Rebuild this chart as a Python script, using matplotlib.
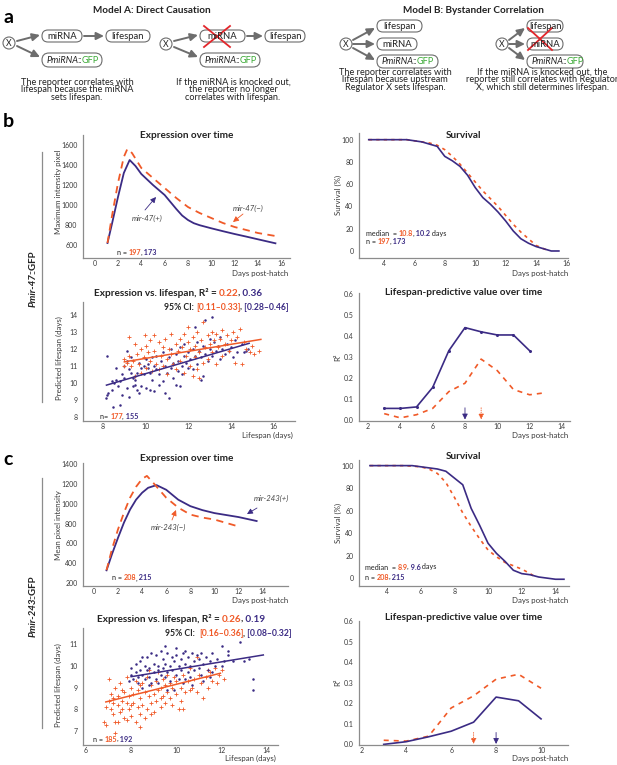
import matplotlib
matplotlib.use('Agg')
import matplotlib.pyplot as plt
import numpy as np
from matplotlib.patches import FancyBboxPatch, Circle

plt.rcParams['font.family'] = ['Lato', 'DejaVu Sans']

ORANGE = '#F05A28'
PURPLE = '#3B2B84'
DARK = '#222222'
AXGRAY = '#8c8c8c'
BOXGRAY = '#6d6d6d'
GREEN = '#3BA935'
RED = '#E3262B'

# ---------------- data ----------------
# b: Pmir-47::GFP expression over time
b_expr_x_pos = [1.1, 1.5, 2, 2.5, 3, 3.5, 4, 5, 6, 6.5, 7, 7.5, 8, 8.5, 9, 10, 11, 12, 13, 14, 15.5]
b_expr_pos = [620, 820, 1080, 1320, 1450, 1390, 1310, 1200, 1100, 1030, 960, 895, 850, 818, 798, 767, 738, 710, 684, 657, 617]
b_expr_x_neg = [1.1, 1.5, 2, 2.5, 2.8, 3.2, 4, 5, 6, 7, 8, 9, 10, 11, 12, 13, 14, 15.5]
b_expr_neg = [620, 900, 1220, 1480, 1560, 1520, 1370, 1270, 1170, 1070, 980, 920, 870, 820, 780, 750, 720, 690]

# b: survival (%)
b_surv_x_pos = [3, 4, 5, 5.5, 6, 6.5, 7, 7.5, 8, 8.5, 9, 9.5, 10, 10.5, 11, 11.5, 12, 12.5, 13, 13.5, 14, 14.5, 15, 15.5]
b_surv_pos = [100, 100, 100, 100, 99, 98, 96, 94, 85, 81, 76, 68, 57, 48, 42, 35, 27, 18, 11, 7, 4, 2, 0, 0]
b_surv_x_neg = [3, 4, 5, 5.5, 6, 6.5, 7, 7.5, 8, 8.5, 9, 9.5, 10, 10.5, 11, 11.5, 12, 12.5, 13, 13.5, 14, 14.5, 14.7]
b_surv_neg = [100, 100, 100, 100, 99, 98, 97, 95, 91, 85, 78, 70, 62, 54, 47, 40, 32, 24, 17, 11, 5, 2, 1]

# b: expression vs lifespan (purple = mir-47(+), orange = mir-47(-))
b_scat_pos = np.array([
    (8.15, 9.1), (8.2, 9.3), (8.2, 11.6), (8.25, 9.4), (8.4, 10.1), (8.4, 9.6), (8.45, 8.6), (8.5, 10.0),
    (8.6, 10.2), (8.6, 10.9), (8.7, 9.8), (8.8, 8.7), (8.8, 10.1), (8.9, 9.3), (8.9, 10.5), (9.0, 11.0),
    (9.0, 10.3), (9.1, 9.7), (9.1, 11.3), (9.13, 11.9), (9.2, 10.8), (9.2, 9.2), (9.3, 10.6), (9.3, 11.5),
    (9.4, 9.8), (9.4, 10.3), (9.5, 10.4), (9.5, 9.9), (9.5, 10.2), (9.6, 10.6), (9.6, 9.6), (9.7, 11.2),
    (9.7, 9.4), (9.8, 10.9), (9.8, 9.8), (9.9, 11.0), (9.9, 10.5), (10.0, 11.4), (10.0, 9.7), (10.1, 10.9),
    (10.1, 11.1), (10.2, 9.6), (10.2, 10.6), (10.3, 11.5), (10.3, 10.2), (10.4, 9.5), (10.4, 11.0), (10.5, 10.8),
    (10.5, 11.6), (10.6, 9.9), (10.6, 10.5), (10.7, 11.3), (10.8, 10.1), (10.8, 11.8), (10.9, 11.0), (10.9, 9.4),
    (11.0, 10.6), (11.1, 9.1), (11.1, 11.5), (11.2, 10.9), (11.2, 12.0), (11.3, 11.2), (11.3, 10.3), (11.4, 11.7),
    (11.4, 9.9), (11.5, 10.7), (11.5, 11.3), (11.6, 9.8), (11.6, 12.1), (11.7, 11.0), (11.7, 10.5), (11.8, 11.6),
    (11.8, 12.3), (11.9, 11.2), (12.0, 10.9), (12.0, 11.8), (12.1, 11.4), (12.2, 12.0), (12.2, 10.8), (12.3, 11.6),
    (12.3, 13.3), (12.4, 12.4), (12.4, 11.1), (12.5, 11.9), (12.6, 10.2), (12.6, 11.5), (12.7, 10.4), (12.7, 12.2),
    (12.8, 13.7), (12.8, 11.7), (12.9, 11.3), (13.0, 12.0), (13.0, 12.6), (13.1, 13.9), (13.1, 11.6), (13.2, 12.4),
    (13.3, 11.9), (13.4, 12.2), (13.5, 11.4), (13.5, 12.7), (13.6, 12.0), (13.7, 11.7), (13.8, 12.3), (13.9, 11.9),
    (14.0, 12.1), (14.1, 11.5), (14.2, 12.5), (14.3, 11.8), (14.5, 12.3), (14.6, 11.8), (14.7, 11.9), (14.8, 12.0),
])
b_scat_neg = np.array([
    (9.0, 11.0), (9.0, 11.4), (9.1, 11.2), (9.2, 12.7), (9.2, 11.6), (9.3, 11.0), (9.4, 11.3), (9.5, 12.3),
    (9.5, 10.4), (9.6, 11.7), (9.7, 11.1), (9.8, 12.0), (9.8, 10.6), (9.9, 11.5), (9.95, 12.8), (10.0, 12.2),
    (10.0, 10.9), (10.1, 11.8), (10.2, 12.5), (10.2, 11.3), (10.3, 10.7), (10.4, 12.8), (10.4, 11.9), (10.5, 11.1),
    (10.6, 12.4), (10.6, 10.8), (10.7, 11.6), (10.8, 12.1), (10.8, 11.0), (10.9, 12.6), (11.0, 11.4), (11.0, 10.5),
    (11.1, 12.0), (11.2, 11.7), (11.2, 12.9), (11.3, 11.1), (11.4, 12.3), (11.4, 10.8), (11.5, 11.9), (11.6, 12.6),
    (11.6, 11.3), (11.7, 12.1), (11.8, 12.9), (11.8, 10.6), (11.9, 11.6), (12.0, 13.3), (12.0, 12.4), (12.1, 11.0),
    (12.1, 12.0), (12.2, 12.7), (12.3, 11.5), (12.3, 12.2), (12.4, 13.0), (12.4, 10.8), (12.5, 11.8), (12.5, 10.3),
    (12.6, 12.5), (12.7, 11.2), (12.7, 13.6), (12.8, 12.1), (12.9, 12.8), (12.9, 11.4), (13.0, 12.3), (13.1, 13.0),
    (13.1, 11.8), (13.2, 12.5), (13.3, 11.1), (13.3, 12.9), (13.4, 12.1), (13.5, 12.6), (13.6, 11.6), (13.6, 13.1),
    (13.7, 12.3), (13.8, 12.8), (13.9, 11.9), (14.0, 12.5), (14.1, 13.0), (14.2, 11.2), (14.3, 12.7), (14.4, 13.2),
    (14.5, 11.1), (14.6, 12.4), (14.7, 12.0), (14.9, 11.8), (15.0, 12.2), (15.1, 11.7), (15.3, 11.9), (12.2, 10.4),
])
b_fit_pos_x, b_fit_pos_y = [8.16, 14.85], [9.87, 12.33]
b_fit_neg_x, b_fit_neg_y = [9.0, 15.4], [11.24, 12.56]

# b: R^2 over time
b_r2_x_pos = [3, 4, 5, 6, 7, 8, 9, 10, 11, 12]
b_r2_pos = [0.055, 0.055, 0.062, 0.155, 0.33, 0.44, 0.42, 0.405, 0.405, 0.33]
b_r2_x_neg = [3, 4, 5, 6, 7, 8, 9, 10, 11, 12, 13]
b_r2_neg = [0.03, 0.01, 0.025, 0.055, 0.135, 0.175, 0.29, 0.235, 0.145, 0.12, 0.13]
b_best_day_pos, b_best_day_neg = 8, 9

# c: Pmir-243::GFP expression over time
c_expr_x_pos = [1.05, 1.5, 2, 2.5, 3, 3.5, 4, 4.5, 5.2, 6, 7, 8, 9, 10, 11, 12, 13.5]
c_expr_pos = [328, 490, 655, 810, 940, 1040, 1110, 1160, 1187, 1140, 1040, 975, 935, 905, 885, 865, 825]
c_expr_x_neg = [1.05, 1.5, 2, 2.5, 3, 3.5, 4, 4.4, 5, 6, 7, 8, 9, 10, 11, 12]
c_expr_neg = [330, 540, 740, 910, 1060, 1170, 1250, 1280, 1200, 1060, 960, 890, 860, 840, 805, 770]

# c: survival (%)
c_surv_x_pos = [3, 4, 5, 5.5, 6.5, 7, 7.5, 8, 8.5, 9, 9.5, 10, 10.5, 11, 11.5, 12, 12.5, 13, 13.5, 14, 14.5]
c_surv_pos = [100, 100, 100, 100, 98, 97, 95, 89, 83, 62, 47, 31, 22, 15, 7, 4, 3, 1, 0, -1, -1]
c_surv_x_neg = [3, 4, 5, 6, 6.5, 7, 7.5, 8, 8.5, 9, 9.5, 10, 10.5, 11, 11.5, 12, 12.5, 12.8]
c_surv_neg = [100, 100, 100, 99, 97, 93, 85, 72, 58, 46, 35, 25, 19, 14, 11, 8, 4, 1]

# c: expression vs lifespan (purple = mir-243(+), orange = mir-243(-))
c_scat_pos = np.array([
    (7.9, 9.3), (8.0, 9.6), (8.0, 9.9), (8.1, 9.4), (8.2, 9.7), (8.2, 10.1), (8.3, 9.5), (8.3, 9.2),
    (8.4, 9.8), (8.4, 10.2), (8.5, 9.6), (8.5, 9.0), (8.5, 10.4), (8.6, 10.0), (8.6, 9.4), (8.7, 9.8),
    (8.7, 10.4), (8.8, 9.5), (8.8, 9.9), (8.8, 9.1), (8.9, 10.6), (8.9, 9.2), (9.0, 9.7), (9.0, 10.1),
    (9.1, 9.4), (9.1, 10.5), (9.2, 9.8), (9.2, 10.0), (9.2, 9.2), (9.3, 9.6), (9.3, 10.7), (9.4, 9.9),
    (9.4, 10.3), (9.5, 9.5), (9.5, 10.1), (9.5, 10.9), (9.6, 9.7), (9.6, 10.6), (9.6, 8.9), (9.7, 10.0),
    (9.7, 9.3), (9.8, 10.4), (9.8, 9.8), (9.9, 10.2), (9.9, 8.9), (10.0, 9.6), (10.0, 10.5), (10.0, 10.8),
    (10.1, 10.0), (10.1, 9.4), (10.2, 10.3), (10.2, 9.8), (10.3, 10.6), (10.3, 9.2), (10.4, 10.1), (10.4, 10.7),
    (10.4, 9.4), (10.5, 9.7), (10.5, 10.4), (10.6, 10.0), (10.6, 9.5), (10.7, 10.6), (10.7, 9.1), (10.8, 10.2),
    (10.8, 9.8), (10.9, 10.5), (11.0, 9.9), (11.0, 10.3), (11.1, 10.6), (11.1, 9.6), (11.2, 10.1), (11.2, 9.3),
    (11.3, 10.4), (11.4, 9.8), (11.5, 10.2), (11.5, 9.5), (11.6, 10.6), (11.6, 9.7), (11.7, 10.0), (11.8, 10.3),
    (12.0, 10.0), (12.0, 10.9), (12.1, 10.2), (12.3, 10.5), (12.3, 10.7), (12.5, 10.2), (12.8, 11.1), (13.0, 10.2),
    (13.2, 10.3), (13.4, 9.4), (13.4, 8.9),
])
c_scat_neg = np.array([
    (6.8, 7.4), (6.9, 7.3), (6.9, 8.1), (7.0, 8.4), (7.0, 9.4), (7.1, 8.0), (7.1, 8.7), (7.2, 7.8),
    (7.2, 8.3), (7.2, 8.5), (7.3, 7.4), (7.3, 6.9), (7.3, 9.0), (7.4, 8.2), (7.4, 8.6), (7.4, 7.4),
    (7.5, 7.9), (7.5, 9.2), (7.6, 8.4), (7.6, 8.0), (7.6, 8.9), (7.7, 8.8), (7.7, 7.6), (7.8, 8.3),
    (7.8, 9.5), (7.8, 7.5), (7.9, 8.0), (7.9, 8.6), (8.0, 7.7), (8.0, 9.0), (8.0, 8.2), (8.1, 8.3),
    (8.1, 8.7), (8.2, 7.4), (8.2, 9.3), (8.3, 8.1), (8.3, 8.9), (8.4, 7.8), (8.4, 8.5), (8.4, 9.1),
    (8.4, 7.2), (8.5, 9.2), (8.5, 8.2), (8.6, 7.6), (8.6, 8.8), (8.7, 9.5), (8.7, 8.0), (8.8, 8.6),
    (8.8, 9.8), (8.9, 8.3), (8.9, 9.1), (8.9, 7.8), (9.0, 7.9), (9.0, 8.7), (9.1, 9.3), (9.1, 8.4),
    (9.2, 8.9), (9.2, 9.7), (9.3, 8.1), (9.3, 9.0), (9.3, 8.5), (9.4, 8.6), (9.4, 9.4), (9.5, 8.3),
    (9.5, 9.1), (9.6, 8.8), (9.6, 9.6), (9.7, 8.5), (9.7, 9.2), (9.8, 9.0), (9.8, 8.2), (9.9, 9.5),
    (10.0, 8.7), (10.0, 9.3), (10.1, 8.0), (10.2, 9.0), (10.2, 8.4), (10.3, 9.6), (10.3, 8.0), (10.4, 8.8),
    (10.5, 9.3), (10.6, 9.9), (10.6, 8.9), (10.7, 9.0), (10.8, 9.4), (10.9, 8.8), (10.9, 10.4), (11.0, 9.6),
    (11.1, 9.2), (11.2, 8.5), (11.3, 9.5), (11.4, 9.0), (11.4, 9.8), (11.5, 9.7), (11.6, 9.3), (11.7, 9.9),
    (11.8, 9.2), (11.9, 9.6), (12.0, 9.8), (12.1, 9.4),
])
c_fit_pos_x, c_fit_pos_y = [8.0, 13.85], [9.5, 10.5]
c_fit_neg_x, c_fit_neg_y = [6.88, 11.95], [8.34, 9.66]

# c: R^2 over time
c_r2_x = [3, 4, 5, 6, 7, 8, 9, 10]
c_r2_pos = [0.0, 0.013, 0.037, 0.064, 0.108, 0.23, 0.212, 0.124]
c_r2_neg = [0.02, 0.016, 0.04, 0.177, 0.236, 0.317, 0.341, 0.273]
c_best_day_pos, c_best_day_neg = 8, 7

# ---------------- figure ----------------
W, H = 617, 765
fig = plt.figure(figsize=(W / 100, H / 100), dpi=100)
bg = fig.add_axes([0, 0, 1, 1])
bg.set_xlim(0, W)
bg.set_ylim(H, 0)
bg.axis('off')

SMALL_ARROW = '-|>,head_length=1.1,head_width=0.55'


def px_axes(l, t, r, b):
    ax = fig.add_axes([l / W, 1 - b / H, (r - l) / W, (b - t) / H])
    ax.patch.set_visible(False)
    return ax


def style(ax, xlim, ylim, xticks, yticks, fmt=None):
    ax.set_xlim(*xlim)
    ax.set_ylim(*ylim)
    ax.set_xticks(xticks)
    ax.set_yticks(yticks)
    if fmt:
        ax.set_yticklabels([fmt % v for v in yticks])
    for s in ['top', 'right']:
        ax.spines[s].set_visible(False)
    for s in ['left', 'bottom']:
        ax.spines[s].set_color(AXGRAY)
        ax.spines[s].set_linewidth(0.9)
    ax.tick_params(axis='both', length=0, labelsize=5, labelcolor='#3a3a3a')
    ax.tick_params(axis='x', pad=1.5)
    ax.tick_params(axis='y', pad=4)


def rainbow(x, y, parts, size, weight='normal'):
    t = None
    for p in parts:
        s, c = p[0], p[1]
        st = p[2] if len(p) > 2 else 'normal'
        wt = p[3] if len(p) > 3 else weight
        kw = dict(color=c, fontsize=size, fontstyle=st, fontweight=wt)
        if t is None:
            t = bg.text(x, y, s, ha='left', va='center', **kw)
        else:
            dx = -0.7 if s[0] in ',:' else 0
            t = bg.annotate(s, xy=(1, 0), xycoords=t, xytext=(dx, 0), textcoords='offset points',
                            ha='left', va='bottom', **kw)
    return t


def vrainbow(x, y, parts, size):
    t = None
    for s, st in parts:
        kw = dict(color=DARK, fontsize=size, fontstyle=st, fontweight='bold', rotation=90)
        if t is None:
            t = bg.text(x, y, s, ha='center', va='bottom', **kw)
        else:
            t = bg.annotate(s, xy=(0.5, 1), xycoords=t, xytext=(0, -0.8), textcoords='offset points',
                            ha='center', va='bottom', **kw)


def title(x, y, s):
    bg.text(x, y, s, ha='center', va='center', fontsize=7.2, fontweight='bold', color=DARK)


def label(x, y, s, rot=0, ha='center'):
    bg.text(x, y, s, ha=ha, va='center', fontsize=5.7, color='#3a3a3a', rotation=rot)


def small_arrow(ax, x0, y0, x1, y1, color, ls='-'):
    ax.annotate('', xy=(x1, y1), xytext=(x0, y0),
                arrowprops=dict(arrowstyle=SMALL_ARROW, mutation_scale=3, color=color, lw=0.6, ls=ls,
                                shrinkA=0, shrinkB=0))


# ---------------- panel a: schematic ----------------
def node(x0, y0, x1, y1):
    bg.add_patch(FancyBboxPatch((x0, y0), x1 - x0, y1 - y0,
                                boxstyle='round,pad=0,rounding_size=%.1f' % ((y1 - y0) / 2),
                                ec=BOXGRAY, fc='white', lw=0.8))


def arrow(x0, y0, x1, y1):
    bg.annotate('', xy=(x1, y1), xytext=(x0, y0),
                arrowprops=dict(arrowstyle='-|>,head_length=0.45,head_width=0.22',
                                color=BOXGRAY, lw=1.4, shrinkA=0, shrinkB=0))


def regulator(x, y):
    bg.add_patch(Circle((x, y), 6, ec=BOXGRAY, fc='white', lw=0.8))
    bg.text(x, y, 'X', ha='center', va='center', fontsize=6.2, color=DARK)


def reporter(x0, y0, x1, y1):
    node(x0, y0, x1, y1)
    rainbow(x0 + 4.5, (y0 + y1) / 2, [('PmiRNA', DARK, 'italic'), ('::', DARK), ('GFP', GREEN)], 6.6)


def simple(x0, y0, x1, y1, s):
    node(x0, y0, x1, y1)
    bg.text((x0 + x1) / 2, (y0 + y1) / 2, s, ha='center', va='center', fontsize=6.8, color=DARK)


def knockout(x0, y0, x1, y1):
    bg.plot([x0, x1], [y0, y1], color=RED, lw=1.3)
    bg.plot([x0, x1], [y1, y0], color=RED, lw=1.3)


def caption(x, y, lines):
    for i, ln in enumerate(lines):
        bg.text(x, y + i * 7.8, ln, ha='center', va='center', fontsize=6.6, color=DARK)


bg.text(3, 17, 'a', fontsize=14, fontweight='bold', ha='left', va='center', color='black')
title(152, 10, 'Model A: Direct Causation')
title(473, 10, 'Model B: Bystander Correlation')

# model A, intact
regulator(9, 43)
arrow(17, 41, 40, 35)
arrow(17, 46, 40, 57)
simple(42, 30, 82, 42, 'miRNA')
arrow(84, 36, 104, 36)
simple(106, 30, 150, 42, 'lifespan')
reporter(42, 53, 102, 67)
caption(77, 82, ['The reporter correlates with', 'lifespan because the miRNA', 'sets lifespan.'])

# model A, knockout
regulator(166, 44)
arrow(174, 41, 198, 35)
arrow(174, 47, 198, 57)
simple(200, 30, 245, 42, 'miRNA')
knockout(204, 26, 230, 47)
arrow(247, 36, 263, 36)
simple(265, 30, 305, 42, 'lifespan')
reporter(200, 53, 260, 67)
caption(233, 82, ['If the miRNA is knocked out,', 'the reporter no longer', 'correlates with lifespan.'])

# model B, intact
regulator(346, 44)
arrow(353, 40, 375, 28)
arrow(353, 44, 375, 44)
arrow(353, 48, 375, 60)
simple(377, 20, 422, 32, 'lifespan')
simple(377, 38, 417, 50, 'miRNA')
reporter(377, 55, 438, 68)
caption(395, 72, ['The reporter correlates with', 'lifespan because upstream', 'Regulator X sets lifespan.'])

# model B, knockout
regulator(502, 44)
arrow(509, 40, 525, 28)
arrow(509, 44, 525, 44)
arrow(509, 48, 525, 60)
simple(527, 20, 563, 32, 'lifespan')
simple(527, 38, 563, 50, 'miRNA')
knockout(528, 28, 552, 50)
reporter(527, 55, 583, 68)
caption(542, 72, ['If the miRNA is knocked out, the', 'reporter still correlates with Regulator',
                  'X, which still determines lifespan.'])

# ---------------- row labels ----------------
bg.text(3, 121, 'b', fontsize=14, fontweight='bold', ha='left', va='center', color='black')
bg.text(3, 459, 'c', fontsize=14, fontweight='bold', ha='left', va='center', color='black')
bg.plot([42, 42], [152, 402], color=AXGRAY, lw=0.9)
bg.plot([42, 42], [478, 728], color=AXGRAY, lw=0.9)
vrainbow(33, 307, [('Pmir-47', 'italic'), ('::GFP', 'normal')], 7)
vrainbow(33, 637, [('Pmir-243', 'italic'), ('::GFP', 'normal')], 7)


def nlabel(x, y, a, b, prefix='n = '):
    rainbow(x, y, [(prefix, DARK), (a, ORANGE, 'normal', 'bold'), (',', DARK),
                   (' ' + b, PURPLE, 'normal', 'bold')], 5.2)


# ---------------- b: expression over time ----------------
ax = px_axes(83, 135, 290, 258)
style(ax, (-1, 16.75), (470, 1700), range(0, 17, 2), range(600, 1601, 200))
ax.plot(b_expr_x_pos, b_expr_pos, color=PURPLE, lw=1.3, solid_joinstyle='round')
ax.plot(b_expr_x_neg, b_expr_neg, color=ORANGE, lw=1.3, dashes=(4, 3))
title(187, 135, 'Expression over time')
label(58, 192, 'Maximum intensity pixel', rot=90)
label(288, 273, 'Days post-hatch', ha='right')
nlabel(117, 252, '197', '173')
bg.text(147, 218, 'mir-47(+)', fontsize=5.6, fontstyle='italic', color='#444', ha='center', va='center')
small_arrow(bg, 145, 210, 156, 197, PURPLE)
bg.text(248, 208, 'mir-47(\u2212)', fontsize=5.6, fontstyle='italic', color='#444', ha='center', va='center')
small_arrow(bg, 243, 214, 233, 222, ORANGE)

# ---------------- b: survival ----------------
ax = px_axes(359, 133, 568, 258)
style(ax, (2.36, 16.1), (-6.3, 106), range(4, 17, 2), range(0, 101, 20))
ax.plot(b_surv_x_neg, b_surv_neg, color=ORANGE, lw=1.2, dashes=(2, 2.5))
ax.plot(b_surv_x_pos, b_surv_pos, color=PURPLE, lw=1.2)
title(463, 135, 'Survival')
label(338, 195, 'Survival (%)', rot=90)
label(568, 273, 'Days post-hatch', ha='right')
rainbow(366, 233, [('median  = ', DARK), ('10.8', ORANGE, 'normal', 'bold'), (',', DARK),
                   (' 10.2', PURPLE, 'normal', 'bold'), (' days', DARK)], 5.2)
nlabel(366, 241, '197', '173')

# ---------------- b: expression vs lifespan ----------------
ax = px_axes(83, 302, 295, 421)
style(ax, (7.06, 17.0), (7.76, 14.76), range(8, 17, 2), range(8, 15))
ax.plot(b_scat_pos[:, 0], b_scat_pos[:, 1], 'o', color=PURPLE, ms=1.8, mew=0)
ax.plot(b_scat_neg[:, 0], b_scat_neg[:, 1], '+', color=ORANGE, ms=2.6, mew=0.6)
ax.plot(b_fit_neg_x, b_fit_neg_y, color=ORANGE, lw=1.1)
ax.plot(b_fit_pos_x, b_fit_pos_y, color=PURPLE, lw=1.1)
rainbow(94, 293, [('Expression vs. lifespan, R\u00b2 = ', DARK), ('0.22', ORANGE), (',', DARK),
                  (' 0.36', PURPLE)], 7.2, weight='bold')
rainbow(164, 307, [('95% CI: ', DARK), ('[0.11\u20130.33]', ORANGE), (',', DARK),
                   (' [0.28\u20130.46]', PURPLE)], 6.2, weight='bold')
label(59, 358, 'Predicted lifespan (days)', rot=90)
label(293, 435, 'Lifespan (days)', ha='right')
nlabel(100, 416, '177', '155', prefix='n= ')

# ---------------- b: R^2 over time ----------------
ax = px_axes(359, 293, 570, 421)
style(ax, (1.44, 14.5), (-0.005, 0.605), range(2, 15, 2), [0, .1, .2, .3, .4, .5, .6], fmt='%.1f')
ax.plot(b_r2_x_neg, b_r2_neg, color=ORANGE, lw=1.2, dashes=(3, 3))
ax.plot(b_r2_x_pos, b_r2_pos, color=PURPLE, lw=1.2, marker='o', ms=1.2)
small_arrow(ax, b_best_day_pos, 0.058, b_best_day_pos, 0.002, PURPLE)
small_arrow(ax, b_best_day_neg, 0.058, b_best_day_neg, 0.002, ORANGE, ls=':')
title(464, 292, 'Lifespan-predictive value over time')
label(338, 357, 'R\u00b2', rot=90)
label(568, 435, 'Days post-hatch', ha='right')

# ---------------- c: expression over time ----------------
ax = px_axes(83, 463, 288, 586)
style(ax, (-0.9, 16.1), (170, 1410), range(0, 15, 2), range(200, 1401, 200))
ax.plot(c_expr_x_pos, c_expr_pos, color=PURPLE, lw=1.3)
ax.plot(c_expr_x_neg, c_expr_neg, color=ORANGE, lw=1.3, dashes=(4, 3))
title(187, 458, 'Expression over time')
label(58, 525, 'Mean pixel intensity', rot=90)
label(288, 601, 'Days post-hatch', ha='right')
nlabel(112, 578, '208', '215')
bg.text(271, 498, 'mir-243(+)', fontsize=5.6, fontstyle='italic', color='#444', ha='center', va='center')
small_arrow(bg, 257, 508, 247, 514, PURPLE)
bg.text(168, 527, 'mir-243(\u2212)', fontsize=5.6, fontstyle='italic', color='#444', ha='center', va='center')
small_arrow(bg, 172, 520, 176, 510, ORANGE)

# ---------------- c: survival ----------------
ax = px_axes(359, 460, 569, 586)
style(ax, (2.35, 14.8), (-7, 105), range(4, 15, 2), range(0, 101, 20))
ax.plot(c_surv_x_neg, c_surv_neg, color=ORANGE, lw=1.2, dashes=(2, 2.5))
ax.plot(c_surv_x_pos, c_surv_pos, color=PURPLE, lw=1.2)
title(463, 456, 'Survival')
label(338, 523, 'Survival (%)', rot=90)
label(568, 601, 'Days post-hatch', ha='right')
rainbow(365, 567, [('median  = ', DARK), ('8.9', ORANGE, 'normal', 'bold'), (',', DARK),
                   (' 9.6', PURPLE, 'normal', 'bold'), (' days', DARK)], 5.2)
nlabel(365, 577, '208', '215')

# ---------------- c: expression vs lifespan ----------------
ax = px_axes(83, 628, 278, 745)
style(ax, (5.87, 14.5), (6.36, 11.74), range(6, 15, 2), range(7, 12))
ax.plot(c_scat_neg[:, 0], c_scat_neg[:, 1], '+', color=ORANGE, ms=2.6, mew=0.6)
ax.plot(c_scat_pos[:, 0], c_scat_pos[:, 1], 'o', color=PURPLE, ms=1.8, mew=0)
ax.plot(c_fit_neg_x, c_fit_neg_y, color=ORANGE, lw=1.1)
ax.plot(c_fit_pos_x, c_fit_pos_y, color=PURPLE, lw=1.1)
rainbow(97, 619, [('Expression vs. lifespan, R\u00b2 = ', DARK), ('0.26', ORANGE), (',', DARK),
                  (' 0.19', PURPLE)], 7.2, weight='bold')
rainbow(165, 634, [('95% CI:  ', DARK), ('[0.16\u20130.36]', ORANGE), (',', DARK),
                   (' [0.08\u20130.32]', PURPLE)], 6.2, weight='bold')
label(58, 685, 'Predicted lifespan (days)', rot=90)
label(276, 758, 'Lifespan (days)', ha='right')
nlabel(93, 739, '185', '192')

# ---------------- c: R^2 over time ----------------
ax = px_axes(359, 621, 568, 745)
style(ax, (1.9, 11.2), (-0.003, 0.6), range(2, 11, 2), [0, .1, .2, .3, .4, .5, .6], fmt='%.1f')
ax.plot(c_r2_x, c_r2_neg, color=ORANGE, lw=1.2, dashes=(3, 3))
ax.plot(c_r2_x, c_r2_pos, color=PURPLE, lw=1.2)
small_arrow(ax, c_best_day_pos, 0.058, c_best_day_pos, 0.002, PURPLE)
small_arrow(ax, c_best_day_neg, 0.058, c_best_day_neg, 0.002, ORANGE, ls=':')
title(464, 617, 'Lifespan-predictive value over time')
label(338, 682, 'R\u00b2', rot=90)
label(568, 758, 'Days post-hatch', ha='right')

fig.savefig('out.png', dpi=100)
